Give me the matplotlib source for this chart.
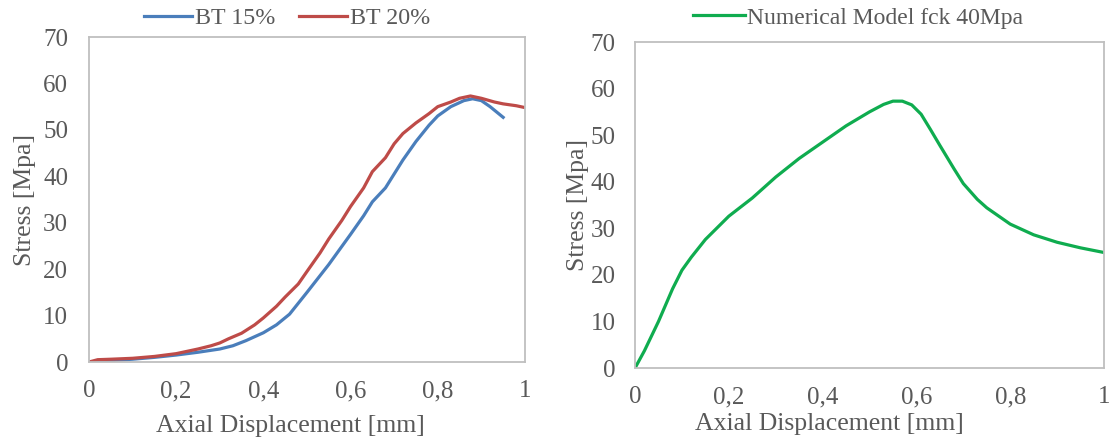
import matplotlib
matplotlib.use("Agg")
import matplotlib.pyplot as plt
from matplotlib.ticker import FixedLocator, FixedFormatter

# Experimental curves (axial displacement in mm, stress in MPa)
bt15_disp = [0.0, 0.05, 0.1, 0.15, 0.2, 0.25, 0.3, 0.33, 0.36, 0.4, 0.43, 0.46,
             0.5, 0.55, 0.6, 0.63, 0.65, 0.68, 0.7, 0.72, 0.75, 0.78, 0.8,
             0.83, 0.86, 0.88, 0.9, 0.92, 0.95]
bt15_stress = [0.0, 0.3, 0.6, 1.0, 1.5, 2.1, 2.8, 3.5, 4.6, 6.3, 8.0, 10.3,
               15.0, 21.0, 27.5, 31.5, 34.5, 37.5, 40.5, 43.5, 47.5, 51.0, 53.0,
               55.0, 56.3, 56.7, 56.3, 55.0, 52.7]

bt20_disp = [0.0, 0.02, 0.05, 0.1, 0.15, 0.2, 0.25, 0.28, 0.3, 0.32, 0.35, 0.38,
             0.4, 0.43, 0.45, 0.48, 0.5, 0.53, 0.55, 0.58, 0.6, 0.63, 0.65,
             0.68, 0.7, 0.72, 0.75, 0.78, 0.8, 0.83, 0.85, 0.875, 0.9, 0.93,
             0.95, 0.98, 1.0]
bt20_stress = [0.0, 0.5, 0.6, 0.8, 1.2, 1.8, 2.8, 3.5, 4.1, 5.0, 6.2, 8.0,
               9.5, 12.0, 14.0, 16.8, 19.5, 23.5, 26.5, 30.5, 33.5, 37.5, 41.0,
               44.0, 47.0, 49.2, 51.5, 53.5, 55.0, 56.0, 56.8, 57.3, 56.8, 56.0,
               55.6, 55.2, 54.8]

# Numerical model, fck = 40 MPa
num_disp = [0.0, 0.02, 0.05, 0.08, 0.1, 0.12, 0.15, 0.2, 0.25, 0.3, 0.35, 0.4,
            0.45, 0.5, 0.53, 0.55, 0.57, 0.59, 0.61, 0.63, 0.65, 0.68, 0.7,
            0.73, 0.75, 0.78, 0.8, 0.85, 0.9, 0.95, 1.0]
num_stress = [0.0, 3.7, 10.0, 17.0, 21.0, 23.8, 27.6, 32.6, 36.5, 41.0, 45.0, 48.5,
              52.0, 55.0, 56.6, 57.3, 57.3, 56.5, 54.5, 51.2, 47.8, 42.8, 39.6,
              36.2, 34.4, 32.3, 30.9, 28.6, 27.0, 25.8, 24.8]

x_ticks = [0, 0.2, 0.4, 0.6, 0.8, 1.0]
x_tick_labels = ["0", "0,2", "0,4", "0,6", "0,8", "1"]
y_ticks = [0, 10, 20, 30, 40, 50, 60, 70]

plt.rcParams["font.family"] = ["Liberation Serif", "DejaVu Serif"]
TEXT = "#595959"
SPINE = "#bfbfbf"

fig = plt.figure(figsize=(11.11, 4.38), dpi=100)
ax1 = fig.add_axes([0.0801, 0.1735, 0.3924, 0.742])
ax2 = fig.add_axes([0.5716, 0.1598, 0.4221, 0.7443])


def style(ax, ypad, ylabelpad, xlabel_pos):
    ax.set_xlim(0, 1)
    ax.set_ylim(0, 70)
    ax.xaxis.set_major_locator(FixedLocator(x_ticks))
    ax.xaxis.set_major_formatter(FixedFormatter(x_tick_labels))
    ax.yaxis.set_major_locator(FixedLocator(y_ticks))
    ax.tick_params(axis="both", length=0, labelsize=18, colors=TEXT)
    ax.tick_params(axis="x", pad=13)
    ax.tick_params(axis="y", pad=ypad)
    for s in ax.spines.values():
        s.set_color(SPINE)
        s.set_linewidth(1.3)
    ax.set_xlabel("Axial Displacement [mm]", fontsize=18.5, color=TEXT)
    ax.xaxis.set_label_coords(*xlabel_pos)
    ax.set_ylabel("Stress [Mpa]", fontsize=18.5, color=TEXT, labelpad=ylabelpad)


ax1.plot(bt15_disp, bt15_stress, color="#4a7ebb", lw=2.3, label="BT 15%")
ax1.plot(bt20_disp, bt20_stress, color="#be4b48", lw=2.3, label="BT 20%")
style(ax1, 15, 5.5, (0.461, -0.163))
ax1.legend(loc="center", bbox_to_anchor=(287 / 1111, 1 - 18 / 438),
           bbox_transform=fig.transFigure, ncol=2, frameon=False,
           fontsize=17.3, handlelength=2.0, handletextpad=0.1,
           columnspacing=1.0, labelcolor=TEXT, borderaxespad=0)

ax2.plot(num_disp, num_stress, color="#0fac4f", lw=2.3,
         label="Numerical Model fck 40Mpa")
style(ax2, 14, 1.5, (0.415, -0.138))
ax2.legend(loc="center", bbox_to_anchor=(858 / 1111, 1 - 18 / 438),
           bbox_transform=fig.transFigure, ncol=1, frameon=False,
           fontsize=17, handlelength=2.2, handletextpad=0.1,
           labelcolor=TEXT, borderaxespad=0)

fig.savefig("out.png", dpi=100)
